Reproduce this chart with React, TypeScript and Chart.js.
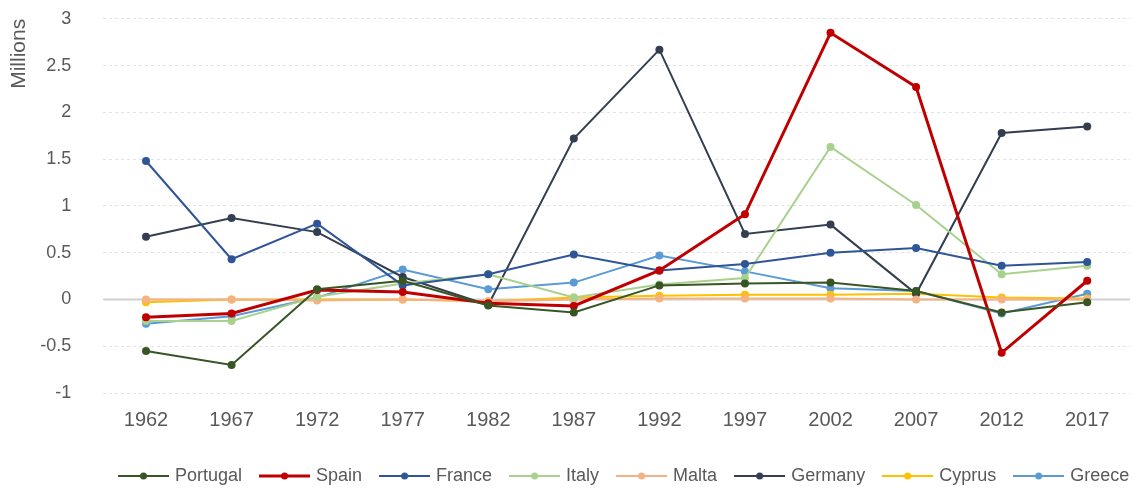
import React, { useEffect, useRef } from "react";
import { Chart, registerables } from "chart.js";

Chart.register(...registerables);

const years = ["1962", "1967", "1972", "1977", "1982", "1987", "1992", "1997", "2002", "2007", "2012", "2017"];

const portugal = [-0.55, -0.7, 0.11, 0.2, -0.065, -0.14, 0.15, 0.17, 0.18, 0.09, -0.14, -0.03];
const spain = [-0.19, -0.15, 0.1, 0.08, -0.04, -0.07, 0.31, 0.91, 2.85, 2.27, -0.57, 0.2];
const france = [1.48, 0.43, 0.81, 0.15, 0.27, 0.48, 0.31, 0.38, 0.5, 0.55, 0.36, 0.4];
const italy = [-0.23, -0.23, 0.03, 0.17, 0.27, 0.02, 0.16, 0.23, 1.63, 1.01, 0.27, 0.36];
const malta = [0.0, 0.0, -0.01, 0.0, -0.02, 0.0, 0.01, 0.01, 0.01, 0.0, 0.0, 0.0];
const germany = [0.67, 0.87, 0.72, 0.24, -0.06, 1.72, 2.67, 0.7, 0.8, 0.06, 1.78, 1.85];
const cyprus = [-0.03, 0.0, 0.0, 0.0, -0.02, 0.02, 0.04, 0.05, 0.05, 0.06, 0.02, 0.01];
const greece = [-0.26, -0.18, 0.02, 0.32, 0.11, 0.18, 0.47, 0.3, 0.12, 0.09, -0.15, 0.06];

const seriesNames = ["Portugal", "Spain", "France", "Italy", "Malta", "Germany", "Cyprus", "Greece"];
const seriesData = [portugal, spain, france, italy, malta, germany, cyprus, greece];
const seriesColors = ["#375623", "#C00000", "#2F5597", "#A9D18E", "#F4B183", "#333F50", "#FFC000", "#5B9BD5"];
const seriesWidths = [2, 3, 2, 2, 2, 2, 2, 2];

const FONT = "'Liberation Sans', Arial, sans-serif";
const TEXT = "#595959";
const LEGEND_START = 121;

function legendIcon(color: string, width: number): HTMLCanvasElement {
  const c = document.createElement("canvas");
  c.width = 51;
  c.height = 10;
  const ctx = c.getContext("2d")!;
  ctx.strokeStyle = color;
  ctx.lineWidth = width;
  ctx.beginPath();
  ctx.moveTo(0, 5);
  ctx.lineTo(51, 5);
  ctx.stroke();
  ctx.fillStyle = color;
  ctx.beginPath();
  ctx.arc(25.5, 5, 3.5, 0, Math.PI * 2);
  ctx.fill();
  return c;
}

const zeroLine = {
  id: "zeroLine",
  beforeDatasetsDraw(chart: any) {
    const { ctx, chartArea, scales } = chart;
    const y = scales.y.getPixelForValue(0);
    ctx.save();
    ctx.strokeStyle = "#D0D0D0";
    ctx.lineWidth = 2;
    ctx.beginPath();
    ctx.moveTo(chartArea.left, y);
    ctx.lineTo(chartArea.right, y);
    ctx.stroke();
    ctx.restore();
  },
};

const legendShift = {
  id: "legendShift",
  afterLayout(chart: any) {
    const lg = chart.legend;
    if (lg && lg.lineWidths && lg.lineWidths.length) {
      const pad = lg.options.labels.padding;
      const x = (lg.left + pad + lg.right - lg.lineWidths[0]) / 2;
      const d = LEGEND_START - x;
      lg.left += d;
      lg.right += d;
    }
  },
};

export default function App() {
  const ref = useRef<HTMLCanvasElement>(null);
  useEffect(() => {
    document.body.style.margin = "0";
    const icons = seriesColors.map((c, i) => legendIcon(c, seriesWidths[i]));
    const chart = new Chart(ref.current!, {
      type: "line",
      data: {
        labels: years,
        datasets: seriesNames.map((name, i) => ({
          label: name,
          data: seriesData[i],
          borderColor: seriesColors[i],
          backgroundColor: seriesColors[i],
          borderWidth: seriesWidths[i],
          pointRadius: 4,
          pointBorderWidth: 0,
          pointStyle: "circle",
          tension: 0,
        })),
      },
      options: {
        animation: false,
        responsive: false,
        layout: { padding: { top: 0, right: 1, left: 4, bottom: -7 } },
        plugins: {
          legend: {
            position: "bottom",
            fullSize: true,
            labels: {
              usePointStyle: true,
              pointStyleWidth: 45,
              padding: 20,
              color: TEXT,
              font: { family: FONT, size: 18 },
              generateLabels: () =>
                seriesNames.map((name, i) => ({
                  text: name,
                  pointStyle: icons[i],
                  fillStyle: seriesColors[i],
                  strokeStyle: seriesColors[i],
                  lineWidth: 0,
                  hidden: false,
                  datasetIndex: i,
                  fontColor: TEXT,
                })),
            },
          },
          tooltip: { enabled: false },
        },
        scales: {
          x: {
            offset: true,
            grid: { display: false, drawTicks: false },
            border: { display: false },
            ticks: { color: TEXT, font: { family: FONT, size: 20 }, padding: 15, maxRotation: 0 },
          },
          y: {
            min: -1,
            max: 3,
            grid: { color: "#E3E3E3", lineWidth: 1, drawTicks: true, tickLength: 24, tickColor: "rgba(0,0,0,0)" },
            border: { display: false, dash: [3, 3] },
            ticks: {
              stepSize: 0.5,
              color: TEXT,
              font: { family: FONT, size: 18 },
              padding: 8,
              callback: (v: any) => String(Math.round(Number(v) * 10) / 10),
            },
            title: {
              display: true,
              text: "Millions",
              align: "end",
              color: TEXT,
              font: { family: FONT, size: 21 },
              padding: { top: 3, bottom: 0 },
            },
          },
        },
      },
      plugins: [zeroLine, legendShift],
    } as any);
    return () => chart.destroy();
  }, []);
  return (
    <div style={{ width: 1134, height: 488 }}>
      <canvas ref={ref} width={1134} height={488} style={{ display: "block" }} />
    </div>
  );
}
